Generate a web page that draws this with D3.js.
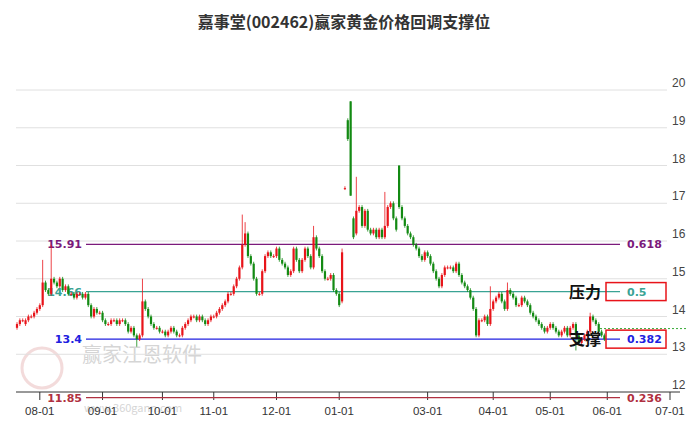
<!DOCTYPE html>
<html><head><meta charset="utf-8">
<script src="https://cdn.jsdelivr.net/npm/d3@7"></script>
<style>body{margin:0;background:#fff;font-family:"Noto Sans CJK SC","Noto Sans",sans-serif}</style>
</head><body><svg id="c" width="689" height="427"></svg>
<script>
const opens = [13.7,13.8,13.9,13.8,13.9,14.0,14.0,14.1,14.2,14.3,
14.9,14.7,14.6,15.0,14.9,14.8,15.0,14.7,14.8,14.6,
14.6,14.5,14.6,14.6,14.5,14.6,14.3,14.0,14.2,14.1,
14.1,13.9,13.8,13.8,13.9,13.9,13.8,13.9,13.9,13.8,
13.6,13.7,13.5,13.4,13.5,14.4,14.2,14.0,13.8,13.7,
13.7,13.6,13.6,13.5,13.6,13.7,13.6,13.5,13.5,13.7,
13.8,13.9,14.0,14.0,13.9,14.0,13.9,13.8,13.9,14.0,
14.0,14.1,14.2,14.3,14.4,14.6,14.6,14.8,15.0,15.3,
15.9,16.2,15.6,15.4,15.0,14.6,14.6,15.2,15.6,15.7,
15.6,15.6,15.8,15.5,15.4,15.3,15.1,15.2,15.8,15.5,
15.2,15.5,15.8,15.6,15.3,16.1,15.8,15.6,15.2,15.0,
15.0,15.1,14.7,14.6,14.4,17.4,19.2,19.7,16.6,16.2,
16.8,16.9,16.4,16.8,16.3,16.2,16.3,16.1,16.3,16.1,
16.4,16.9,17.0,16.6,18.0,16.9,16.6,16.4,16.2,16.1,
15.9,15.8,15.6,15.5,15.7,15.6,15.4,15.2,15.0,14.8,
15.1,15.3,15.3,15.3,15.2,15.4,15.1,14.9,14.8,14.7,
14.5,14.2,13.5,13.9,13.9,14.0,13.8,14.2,14.4,14.5,
14.6,14.4,14.2,14.7,14.6,14.5,14.3,14.3,14.5,14.4,
14.3,14.1,14.0,13.9,13.8,13.7,13.6,13.7,13.8,13.7,
13.6,13.5,13.6,13.7,13.5,13.7,13.8,13.5,13.3,13.4,
13.5,13.6,14.0,13.9,13.8,13.6,13.5];
const closes = [13.8,13.9,13.9,13.9,14.0,14.0,14.1,14.2,14.3,14.9,
14.7,14.6,15.0,14.9,14.8,15.0,14.7,14.8,14.6,14.6,
14.5,14.6,14.6,14.5,14.6,14.3,14.0,14.2,14.1,14.1,
13.9,13.8,13.8,13.9,13.9,13.8,13.9,13.9,13.8,13.6,
13.7,13.5,13.4,13.5,14.4,14.2,14.0,13.8,13.7,13.7,
13.6,13.6,13.5,13.6,13.7,13.6,13.5,13.5,13.7,13.8,
13.9,14.0,14.0,13.9,14.0,13.9,13.8,13.9,14.0,14.0,
14.1,14.2,14.3,14.4,14.6,14.6,14.8,15.0,15.3,15.9,
16.2,15.6,15.4,15.0,14.6,14.6,15.2,15.6,15.7,15.6,
15.6,15.8,15.5,15.4,15.3,15.1,15.2,15.8,15.5,15.2,
15.5,15.8,15.6,15.3,16.1,15.8,15.6,15.2,15.0,15.0,
15.1,14.7,14.6,14.3,15.7,17.4,18.7,17.2,16.1,16.8,
16.9,16.4,16.8,16.3,16.2,16.3,16.1,16.3,16.1,16.4,
16.9,17.0,16.6,16.3,16.9,16.6,16.4,16.2,16.1,15.9,
15.8,15.6,15.5,15.7,15.6,15.4,15.2,15.0,14.8,15.1,
15.3,15.3,15.3,15.2,15.4,15.1,14.9,14.8,14.7,14.5,
14.2,13.5,13.9,13.9,14.0,13.8,14.2,14.4,14.5,14.6,
14.4,14.2,14.7,14.6,14.5,14.3,14.3,14.5,14.4,14.3,
14.1,14.0,13.9,13.8,13.7,13.6,13.7,13.8,13.7,13.6,
13.5,13.6,13.7,13.5,13.7,13.8,13.5,13.3,13.4,13.5,
13.6,14.0,13.9,13.8,13.6,13.5,13.4];
// wick extremes that stick out past the body
const highs = {9:15.5,12:15.9,44:15.0,79:16.7,80:16.5,104:16.4,114:15.8,117:19.7,119:17.7,129:17.3,134:18.0,166:14.8,172:14.9,201:14.1};
const lows = {42:13.2,117:17.2,196:13.1};
const monthTicks = [["08-01",8],["09-01",30],["10-01",51],["11-01",69],["12-01",91],["01-01",113],["03-01",144],["04-01",167],["05-01",187],["06-01",207],["07-01",229]];
const yTicks = [12,13,14,15,16,17,18,19,20];
const levels = [
  {v:15.91, left:"15.91", right:"0.618", color:"#7b1a7b"},
  {v:14.66, left:"14.66", right:"0.5", color:"#3aa394", tag:"压力"},
  {v:13.4, left:"13.4", right:"0.382", color:"#2020e0", tag:"支撑"},
  {v:11.85, left:"11.85", right:"0.236", color:"#b03040"}
];
const lastPrice = 13.68;

const svg = d3.select("#c");
const x = d3.scaleLinear().domain([0,229]).range([17,670]);
const y = d3.scaleLinear().domain([12,20]).range([392,90]);

svg.append("text").attr("x",344).attr("y",28).attr("text-anchor","middle")
  .attr("font-size",16).attr("font-weight","bold").attr("fill","#333")
  .text("嘉事堂(002462)赢家黄金价格回调支撑位");

// watermark
const wm = svg.append("g").attr("opacity",0.35);
wm.append("circle").attr("cx",42).attr("cy",368).attr("r",20).attr("fill","none").attr("stroke","#d99").attr("stroke-width",3);
wm.append("text").attr("x",82).attr("y",362).attr("font-size",20).attr("fill","#888").text("赢家江恩软件");
wm.append("text").attr("x",84).attr("y",412).attr("font-size",11).attr("fill","#888").text("www.360gann.com");

svg.append("g").selectAll("line").data(yTicks.filter(d=>d>12)).join("line")
  .attr("x1",16).attr("x2",667).attr("y1",d=>y(d)).attr("y2",d=>y(d))
  .attr("stroke","#e0e0e0");
svg.append("g").selectAll("text").data(yTicks).join("text")
  .attr("x",672).attr("y",d=>y(d)-3).attr("font-size",12).attr("fill","#444")
  .attr("font-family","Liberation Sans,Arial").text(d=>d);

// x axis
svg.append("line").attr("x1",16).attr("x2",680).attr("y1",392).attr("y2",392).attr("stroke","#333");
const xt = svg.append("g").selectAll("g").data(monthTicks).join("g");
xt.append("line").attr("x1",d=>x(d[1])).attr("x2",d=>x(d[1])).attr("y1",392).attr("y2",400).attr("stroke","#333");
xt.append("text").attr("x",d=>x(d[1])).attr("y",415).attr("text-anchor","middle")
  .attr("font-size",11.5).attr("fill","#333").attr("font-family","Liberation Sans,Arial").text(d=>d[0]);

// fib levels
const lv = svg.append("g").selectAll("g").data(levels).join("g");
lv.append("line").attr("x1",86).attr("x2",620).attr("y1",d=>y(d.v)).attr("y2",d=>y(d.v))
  .attr("stroke",d=>d.color).attr("stroke-width",1.2);
lv.append("text").attr("x",82).attr("y",d=>y(d.v)+4).attr("text-anchor","end")
  .attr("font-size",11).attr("font-weight","bold").attr("fill",d=>d.color)
  .attr("font-family","DejaVu Sans").text(d=>d.left);
lv.append("text").attr("x",627).attr("y",d=>y(d.v)+4)
  .attr("font-size",11).attr("font-weight","bold").attr("fill",d=>d.color)
  .attr("font-family","DejaVu Sans").text(d=>d.right);

// current price dashed
svg.append("line").attr("x1",600).attr("x2",686).attr("y1",y(lastPrice)).attr("y2",y(lastPrice))
  .attr("stroke","#3a3").attr("stroke-dasharray","2,2");

// candles
const idx = d3.range(closes.length);
const cg = svg.append("g").selectAll("g").data(idx).join("g");
const col = i => closes[i] >= opens[i] ? "#e8141a" : "#138a13";
cg.append("line").attr("x1",i=>x(i)).attr("x2",i=>x(i))
  .attr("y1",i=>y(highs[i] ?? Math.max(opens[i],closes[i])+0.05))
  .attr("y2",i=>y(lows[i] ?? Math.min(opens[i],closes[i])-0.05))
  .attr("stroke",col).attr("stroke-width",0.8);
cg.append("rect").attr("x",i=>x(i)-1.1).attr("width",2.2)
  .attr("y",i=>y(Math.max(opens[i],closes[i])))
  .attr("height",i=>Math.max(1,Math.abs(y(opens[i])-y(closes[i]))))
  .attr("fill",col);

// tags and boxes
const tg = svg.append("g").selectAll("g").data(levels.filter(d=>d.tag)).join("g");
tg.append("rect").attr("x",606).attr("y",d=>y(d.v)-9).attr("width",60).attr("height",18)
  .attr("fill","none").attr("stroke","#e8141a").attr("stroke-width",1.5);
tg.append("text").attr("x",569).attr("y",d=>y(d.v)+6).attr("font-size",16).attr("font-weight","bold")
  .attr("fill","#111").text(d=>d.tag);
</script></body></html>
